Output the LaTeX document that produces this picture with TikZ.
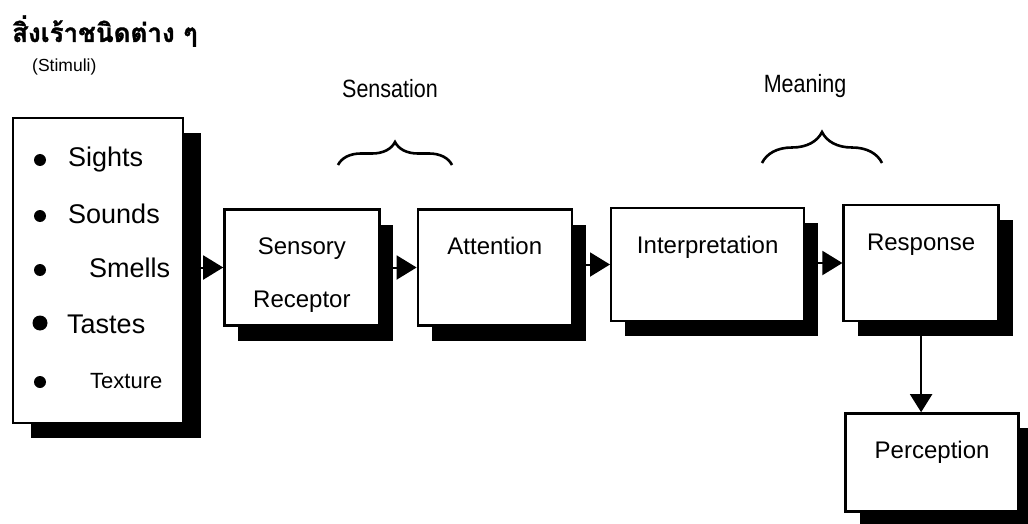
\documentclass[tikz,border=0pt]{standalone}
\usepackage{fontspec}
\setmainfont{Liberation Sans}
\newfontfamily\thaifont[Script=Thai, FakeBold=1.2]{Loma}
\newfontfamily\narrowfont[FakeStretch=0.86]{Liberation Sans}
\usetikzlibrary{arrows.meta,positioning,shadows,decorations.pathreplacing}

\begin{document}
\begin{tikzpicture}[x=1pt, y=-1pt,
  box/.style={draw, line width=2.4pt, fill=white, inner sep=0pt, text height=45pt,
    font=\fontsize{24pt}{29pt}\selectfont,
    drop shadow={shadow xshift=#1, shadow yshift=-15pt, fill=black, opacity=1}},
  box/.default=14pt,
  item/.style={anchor=base west, inner sep=0pt},
  tag/.style={anchor=base, inner sep=0pt, font=\narrowfont\fontsize{25pt}{30pt}\selectfont},
  flow/.style={line width=2pt, -{Triangle[length=20pt, width=24pt]}},
  brace/.style={line width=2.6pt, decorate, decoration={brace, amplitude=#1}}]

  \useasboundingbox (0,0) rectangle (1028,524);

  % headings
  \node[anchor=base west, inner sep=0pt, font=\thaifont\bfseries\fontsize{26pt}{32pt}\selectfont] (title) at (12,42) {สิ่งเร้าชนิดต่าง ๆ};
  \node[anchor=base west, inner sep=0pt, font=\fontsize{17.5pt}{21pt}\selectfont] (stimuli) at (32,72) {(Stimuli)};
  \node[tag] (sensation) at (390,98) {Sensation};
  \node[tag] (meaning) at (805,93) {Meaning};

  % stimuli list
  \node[box=18pt, minimum width=170pt, minimum height=305pt] (stim) at (98,270.5) {};
  \foreach \yb/\xt/\fs/\yd/\rd/\name in {167/68/27/160/6/Sights, 223/68/27/216/6/Sounds,
      277/89/27/270/6/Smells, 333/67/27/323/7.5/Tastes, 388/90/22/382/6/Texture} {
    \fill (40,\yd) circle (\rd pt);
    \node[item, font=\fontsize{\fs}{\fs}\selectfont] (\name) at (\xt,\yb) {\name};
  }

  % process chain
  \node[box, right=39pt of stim, yshift=3pt, minimum width=155pt, text depth=71pt] (sens)
    {\begin{tabular}[t]{@{}c@{}}Sensory\\[24pt]Receptor\end{tabular}};
  \node[box, right=36pt of sens, minimum width=154pt, text depth=71pt] (att) {Attention};
  \node[box, right=37pt of att, yshift=3pt, minimum width=193pt, text depth=68pt] (interp) {Interpretation};
  \node[box, right=37pt of interp, yshift=1.5pt, minimum width=155pt, text depth=71pt] (resp) {Response};
  \node[box, below=90pt of resp, xshift=11pt, minimum width=173pt, text depth=53pt] (perc) {Perception};

  \draw[flow] (sens.west -| stim.east) -- (sens.west);
  \draw[flow] (att.west -| sens.east) -- (att.west);
  \draw[flow] (interp.west -| att.east) -- (interp.west);
  \draw[flow] (resp.west -| interp.east) -- (resp.west);
  \draw[flow, -{Triangle[length=18pt, width=22pt]}] (resp.south) -- (resp.south |- perc.north);

  % braces
  \draw[brace=23pt] (338,165) -- (452,165);
  \draw[brace=31pt] (762,163) -- (882,163);
\end{tikzpicture}
\end{document}
